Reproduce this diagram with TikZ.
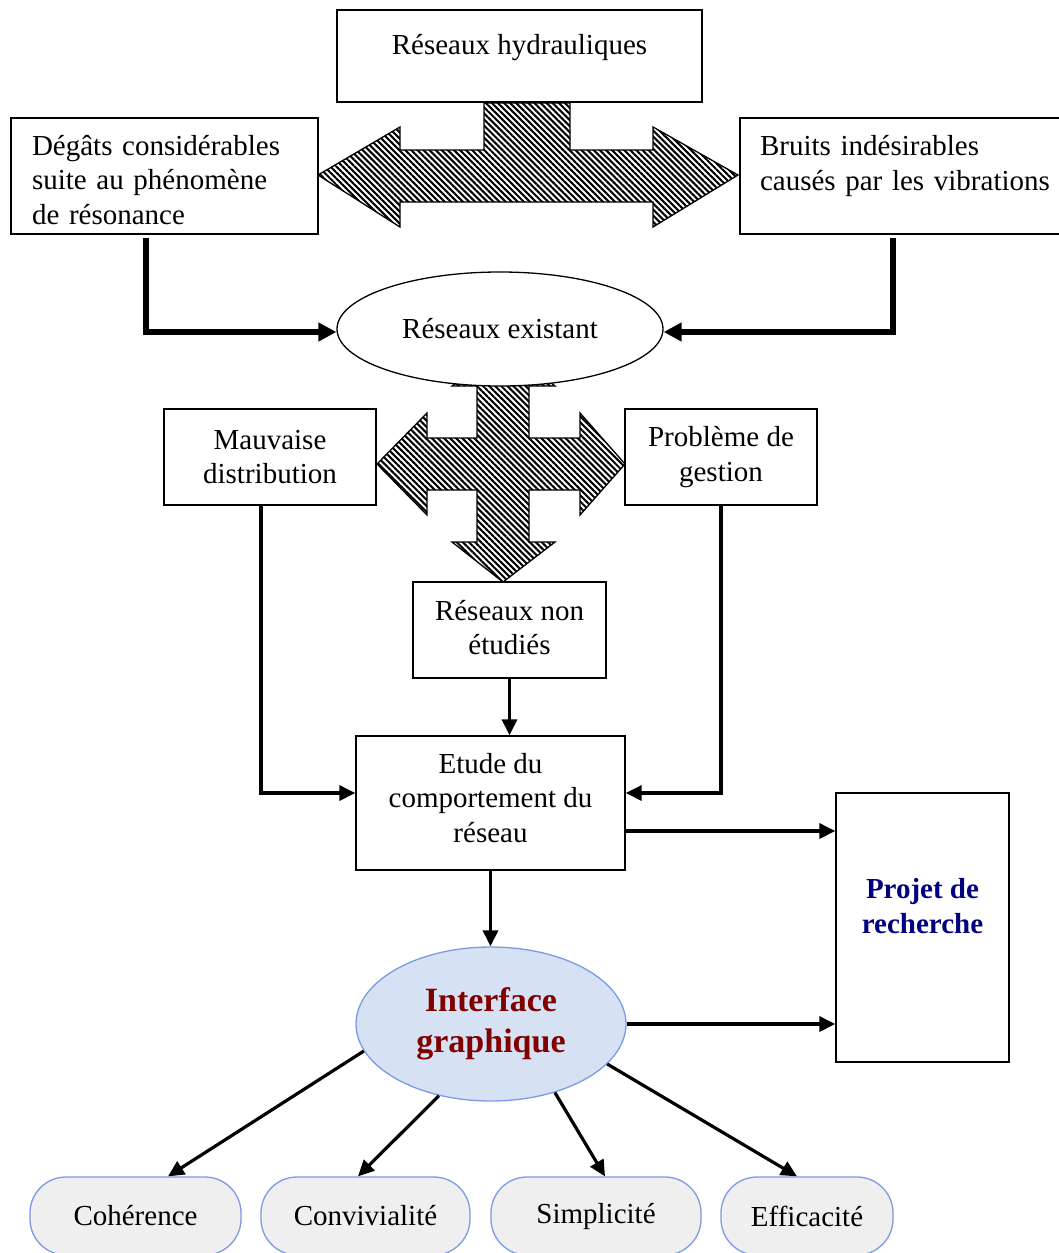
\documentclass[tikz,border=0pt]{standalone}
\usepackage{fontspec}
\setmainfont{Liberation Serif}
\usetikzlibrary{arrows.meta,patterns.meta,shapes.geometric}
\definecolor{igfill}{HTML}{D6E1F3}
\definecolor{igline}{HTML}{7B9BE3}
\definecolor{qfill}{HTML}{EFEFEF}
\definecolor{igtext}{HTML}{800000}
\definecolor{prtext}{HTML}{000080}
\tikzset{
  txt/.style={font=\fontsize{29}{34.5}\selectfont, inner sep=0pt, align=center},
  boxnode/.style={draw, line width=1.3pt, inner sep=0pt, fill=white},
  hatch/.style={draw, line width=1.3pt, line join=miter, pattern={Lines[angle=-45,distance=4.3pt,line width=2.1pt]}},
  thickcon/.style={line width=5.5pt, -{Triangle[length=18pt,width=18pt]}},
  thincon/.style={line width=3.2pt, -{Triangle[length=16pt,width=15pt]}},
  quality/.style={draw=igline, fill=qfill, line width=1.3pt, rounded corners=36pt, minimum height=78pt, inner sep=0pt, font=\fontsize{29}{34.5}\selectfont},
}
\begin{document}
\begin{tikzpicture}[x=1pt,y=-1pt]
\useasboundingbox (0,0) rectangle (1058,1253);

% hatched double arrow (top)
\path[hatch] (484,103) -- (570,103) -- (570,150) -- (653,150) -- (653,127) -- (738,175) -- (653,227) -- (653,202)
  -- (400,202) -- (400,227) -- (318,175) -- (400,127) -- (400,150) -- (484,150) -- cycle;

% hatched four-way arrow
\path[hatch] (503,346) -- (555,386) -- (529,386) -- (529,438) -- (580,438) -- (580,413) -- (625,464) -- (580,515)
  -- (580,490) -- (529,490) -- (529,542) -- (555,542) -- (503,582) -- (452,542) -- (477,542) -- (477,490)
  -- (427,490) -- (427,515) -- (377,464) -- (427,413) -- (427,438) -- (477,438) -- (477,386) -- (452,386) -- cycle;

% top boxes
\node[boxnode, minimum width=365pt, minimum height=92pt] (rh) at (519.5,56) {};
\node[txt] (rhtext) at (519.5,48) {Réseaux hydrauliques};

\node[boxnode, minimum width=307pt, minimum height=116pt] (deg) at (164.5,176) {};
\node[txt, text width=265pt, align=left] (degtext) at (164.5,180) {Dégâts considérables\\suite au phénomène\\de résonance};

\node[boxnode, minimum width=330pt, minimum height=116pt] (bru) at (905,176) {};
\node[txt, text width=290pt, align=left] (brutext) at (905,166) {Bruits indésirables\\causés par les vibrations};

% ellipse
\node[ellipse, draw, line width=1.3pt, fill=white, minimum width=326pt, minimum height=114pt, inner sep=0pt, txt] (re) at (500,329) {Réseaux existant};

% middle boxes
\node[boxnode, txt, minimum width=212pt, minimum height=96pt] (md) at (270,457) {Mauvaise\\distribution};
\node[boxnode, txt, minimum width=192pt, minimum height=96pt] (pg) at (721,457) {Problème de\\gestion};
\node[boxnode, minimum width=193pt, minimum height=96pt] (rne) at (509.5,630) {};
\node[txt] (rnetext) at (509.5,627.5) {Réseaux non\\étudiés};
\node[boxnode, minimum width=269pt, minimum height=134pt] (et) at (490.5,803) {};
\node[txt] (ettext) at (490.5,798) {Etude du\\comportement du\\réseau};

\node[boxnode, minimum width=173pt, minimum height=269pt] (pr) at (922.5,927.5) {};
\node[txt, text=prtext, font=\fontsize{29}{34.5}\selectfont\bfseries] (prtext) at (922.5,906) {Projet de\\recherche};

\node[ellipse, draw=igline, fill=igfill, line width=1.3pt, minimum width=270pt, minimum height=154pt, inner sep=0pt,
  align=center, text=igtext, font=\fontsize{34}{41}\selectfont\bfseries] (ig) at (491,1024) {Interface\\graphique};

% bottom qualities
\node[quality, minimum width=211pt] (coh) at (135.5,1216) {Cohérence};
\node[quality, minimum width=209pt] (con) at (365.5,1216) {Convivialité};
\node[quality, minimum width=210pt] (sim) at (596,1216) {Simplicité};
\node[quality, minimum width=172pt] (eff) at (807,1216) {Efficacité};

% connectors
\draw[thickcon] ([xshift=-18.5pt,yshift=-3pt]deg.south) |- ([yshift=-3pt]re.west);
\draw[thickcon] ([xshift=-12pt,yshift=-3pt]bru.south) |- ([yshift=-3pt]re.east);
\draw[thincon] ([xshift=-9pt]md.south) |- ([yshift=10pt]et.west);
\draw[thincon] (pg.south) |- ([yshift=10pt]et.east);
\draw[thincon] (rne.south) -- (rne.south |- et.north);
\coordinate (e1) at ([yshift=-28pt]et.east);
\draw[thincon] (e1) -- (e1 -| pr.west);
\draw[thincon] (et.south) -- (et.south |- ig.north);
\draw[thincon] (ig.east) -- (ig.east -| pr.west);
\draw[thincon] (ig.192) -- ([xshift=32.5pt]coh.north);
\draw[thincon] (ig.234) -- ([xshift=-7.5pt]con.north);
\draw[thincon] (ig.313) -- ([xshift=9pt]sim.north);
\draw[thincon] (ig.341) -- ([xshift=-10pt]eff.north);
\end{tikzpicture}
\end{document}
